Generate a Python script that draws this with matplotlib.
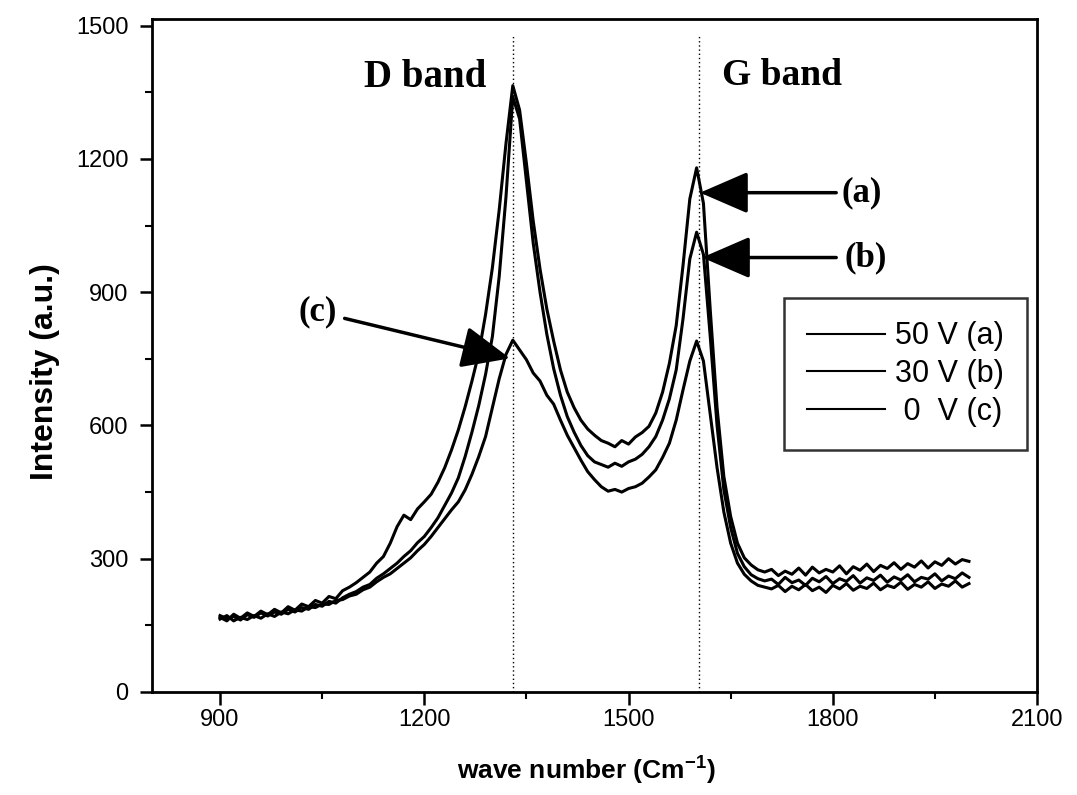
import matplotlib
matplotlib.use("Agg")
import matplotlib.pyplot as plt
from matplotlib.ticker import MultipleLocator

plt.rcParams['font.family'] = ['Liberation Sans', 'DejaVu Sans']
plt.rcParams['mathtext.fontset'] = 'custom'
plt.rcParams['mathtext.bf'] = 'Liberation Sans:bold'
plt.rcParams['mathtext.rm'] = 'Liberation Sans:bold'
plt.rcParams['mathtext.default'] = 'bf'

# ---------------- data ----------------
wavenumber = [
    900, 910, 920, 930, 940, 950, 960, 970, 980, 990,
    1000, 1010, 1020, 1030, 1040, 1050, 1060, 1070, 1080, 1090,
    1100, 1110, 1120, 1130, 1140, 1150, 1160, 1170, 1180, 1190,
    1200, 1210, 1220, 1230, 1240, 1250, 1260, 1270, 1280, 1290,
    1300, 1310, 1320, 1330, 1340, 1350, 1360, 1370, 1380, 1390,
    1400, 1410, 1420, 1430, 1440, 1450, 1460, 1470, 1480, 1490,
    1500, 1510, 1520, 1530, 1540, 1550, 1560, 1570, 1580, 1590,
    1600, 1610, 1620, 1630, 1640, 1650, 1660, 1670, 1680, 1690,
    1700, 1710, 1720, 1730, 1740, 1750, 1760, 1770, 1780, 1790,
    1800, 1810, 1820, 1830, 1840, 1850, 1860, 1870, 1880, 1890,
    1900, 1910, 1920, 1930, 1940, 1950, 1960, 1970, 1980, 1990,
    2000]

v50_a = [
    168, 160, 175, 166, 178, 170, 182, 174, 186, 178,
    192, 184, 198, 192, 206, 200, 215, 210, 228, 236,
    246, 258, 270, 290, 305, 335, 372, 398, 388, 412,
    428, 445, 472, 505, 545, 590, 642, 700, 762, 850,
    955, 1085, 1235, 1365, 1310, 1190, 1060, 952, 862, 790,
    725, 675, 640, 612, 592, 578, 566, 560, 552, 566,
    558, 574, 584, 598, 628, 675, 740, 825, 960, 1110,
    1180, 1100, 860, 640, 485, 395, 335, 302, 286, 275,
    270, 276, 262, 272, 265, 279, 263, 281, 268, 276,
    270, 284, 266, 282, 274, 288, 271, 285, 278, 291,
    276, 289, 281, 295, 279, 293, 285, 300, 288, 298,
    294]

v30_b = [
    172, 165, 170, 162, 174, 168, 178, 171, 180, 175,
    186, 180, 190, 186, 197, 193, 204, 200, 212, 220,
    226, 236, 242, 256, 266, 278, 290, 305, 318, 336,
    350, 370, 392, 420, 448, 482, 530, 585, 645, 715,
    800, 935, 1115, 1340, 1290, 1150, 1010, 900, 805, 728,
    668, 620, 585, 555, 532, 518, 512, 506, 515, 508,
    518, 524, 535, 552, 575, 612, 660, 725, 840, 975,
    1035, 985, 800, 600, 455, 370, 312, 282, 264, 255,
    250, 254, 242, 258, 246, 252, 240, 256, 248, 260,
    244, 255, 249, 262, 245, 257, 251, 263, 247, 259,
    252, 264, 248, 258, 254, 266, 250, 261, 255, 268,
    258]

v0_c = [
    164, 172, 160, 168, 163, 172, 166, 176, 170, 180,
    176, 185, 182, 192, 190, 198, 197, 206, 208, 216,
    220, 230, 236, 248, 258, 266, 278, 290, 302, 318,
    332, 350, 370, 390, 410, 428, 455, 490, 530, 575,
    640, 705, 760, 792, 770, 748, 718, 700, 668, 648,
    612, 578, 550, 522, 496, 478, 462, 452, 456, 450,
    458, 462, 470, 484, 500, 528, 560, 612, 680, 745,
    790, 745, 625, 505, 405, 335, 290, 265, 250, 240,
    236, 232, 240, 226, 238, 230, 242, 228, 236, 224,
    240, 232, 244, 229, 238, 233, 245, 230, 240, 235,
    247, 231, 242, 236, 248, 233, 243, 238, 250, 236,
    244]

series_labels = ['50 V (a)', '30 V (b)', ' 0  V (c)']
band_positions = [1330, 1603]
band_names = ['D band', 'G band']

# ---------------- figure ----------------
fig = plt.figure(figsize=(10.77, 7.95), dpi=100)
ax = fig.add_axes([0.1411, 0.1296, 0.8218, 0.8465])

for y, lab in zip([v50_a, v30_b, v0_c], series_labels):
    ax.plot(wavenumber, y, color='black', lw=2.2, label=lab)

for bx in band_positions:
    ax.plot([bx, bx], [0, 1480], color='black', lw=1.0, ls=(0, (1, 2)))

ax.set_xlim(800, 2100)
ax.set_ylim(0, 1515)
ax.xaxis.set_major_locator(MultipleLocator(300))
ax.xaxis.set_minor_locator(MultipleLocator(150))
ax.yaxis.set_major_locator(MultipleLocator(300))
ax.yaxis.set_minor_locator(MultipleLocator(150))
ax.set_xticks([900, 1200, 1500, 1800, 2100])
ax.tick_params(which='major', direction='out', length=9, width=1.8, labelsize=17)
ax.tick_params(which='minor', direction='out', length=5, width=1.5)
ax.tick_params(axis='y', which='major', pad=8)
for s in ax.spines.values():
    s.set_linewidth(2.0)

# band labels
serif = ['Liberation Serif', 'DejaVu Serif']
ax.text(1201, 1383, band_names[0], family=serif, fontweight='bold', fontsize=28,
        ha='center', va='center')
ax.text(1726, 1387, band_names[1], family=serif, fontweight='bold', fontsize=27,
        ha='center', va='center')

# arrows + letters
arrow_kw = dict(arrowstyle='-|>,head_length=1.5,head_width=0.65', color='black',
                lw=2.5, mutation_scale=20, shrinkA=0, shrinkB=0)
ax.text(1842, 1124, '(a)', family=serif, fontweight='bold', fontsize=25,
        ha='center', va='center')
ax.annotate('', xy=(1605, 1124), xytext=(1805, 1124), arrowprops=arrow_kw)
ax.text(1848, 978, '(b)', family=serif, fontweight='bold', fontsize=25,
        ha='center', va='center')
ax.annotate('', xy=(1608, 978), xytext=(1805, 978), arrowprops=arrow_kw)
ax.text(1044, 855, '(c)', family=serif, fontweight='bold', fontsize=25,
        ha='center', va='center')
ax.annotate('', xy=(1326, 751), xytext=(1083, 841), arrowprops=arrow_kw)

leg = ax.legend(loc='upper left', bbox_to_anchor=(0.714, 0.585), fontsize=22,
                frameon=True, fancybox=False, edgecolor='black',
                handlelength=2.55, handletextpad=0.33, labelspacing=0.26,
                borderpad=0.75, borderaxespad=0.0)
leg.get_frame().set_linewidth(1.8)
for h in leg.get_lines():
    h.set_linewidth(1.5)

fig.text(0.544, 0.030, r'wave number (Cm$^{-1}$)', fontsize=19, fontweight='bold',
         ha='center', va='center')
fig.text(0.042, 0.532, 'Intensity (a.u.)', fontsize=23, fontweight='bold',
         rotation=90, ha='center', va='center')

fig.savefig('out.png', dpi=100)
